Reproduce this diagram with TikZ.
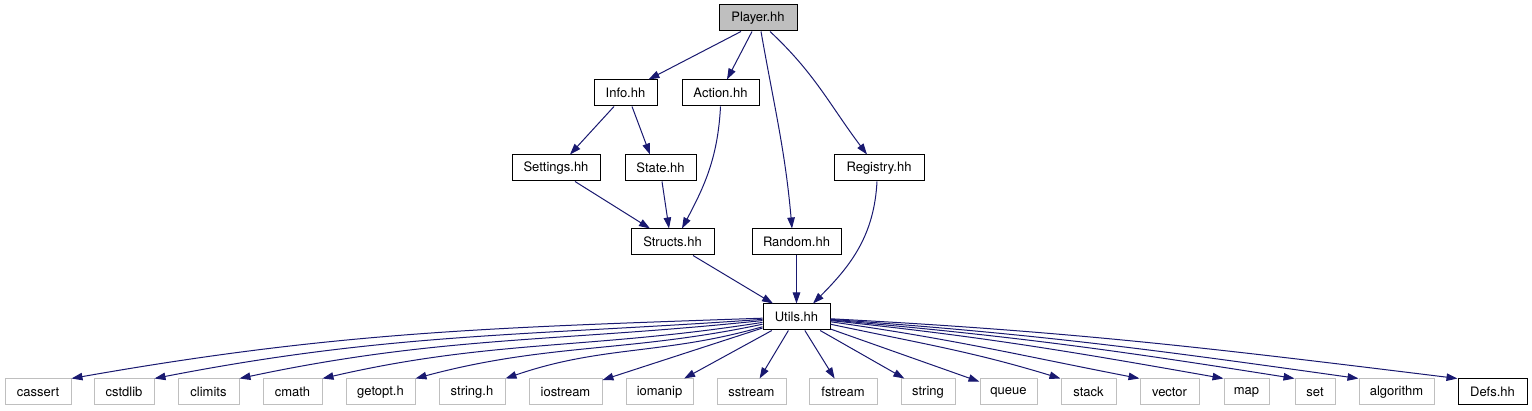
\documentclass[tikz,border=0pt]{standalone}
\usepackage{fontspec}
\setmainfont{TeX Gyre Heros}
\usetikzlibrary{arrows.meta}
\definecolor{edgeblue}{HTML}{191970}
\definecolor{lightgrey}{HTML}{BFBFBF}
\definecolor{playerfill}{HTML}{BFBFBF}
\begin{document}
\begin{tikzpicture}[x=1pt,y=1pt,
  every node/.style={font=\fontsize{13}{15}\selectfont, inner sep=0pt, minimum height=26pt, anchor=center},
  box/.style={draw=black, line width=1pt, fill=white},
  extbox/.style={draw=lightgrey, line width=1pt, fill=white},
  edge/.style={draw=edgeblue, line width=1pt, -{Triangle[length=11pt,width=7.5pt]}},
]
\useasboundingbox (0,0) rectangle (1532,-411);
\fill[white] (0,0) rectangle (1532,-411);

\node[box, fill=playerfill, minimum width=78pt] (player) at (758,-18) {Player.hh};
\node[box, minimum width=63pt] (info) at (625.5,-93) {Info.hh};
\node[box, minimum width=77pt] (action) at (720.5,-93) {Action.hh};
\node[box, minimum width=88pt] (settings) at (556,-168) {Settings.hh};
\node[box, minimum width=71pt] (state) at (660.5,-168) {State.hh};
\node[box, minimum width=90pt] (registry) at (879,-168) {Registry.hh};
\node[box, minimum width=83pt] (structs) at (672.5,-242) {Structs.hh};
\node[box, minimum width=89pt] (random) at (796.5,-242) {Random.hh};
\node[box, minimum width=67pt] (utils) at (796.5,-317) {Utils.hh};

\node[extbox, minimum width=66pt] (cassert) at (38,-392) {cassert};
\node[extbox, minimum width=60pt] (cstdlib) at (124,-392) {cstdlib};
\node[extbox, minimum width=61pt] (climits) at (208.5,-392) {climits};
\node[extbox, minimum width=59pt] (cmath) at (292.5,-392) {cmath};
\node[extbox, minimum width=69pt] (getopt) at (380.5,-392) {getopt.h};
\node[extbox, minimum width=66pt] (stringh) at (472,-392) {string.h};
\node[extbox, minimum width=73pt] (iostream) at (565.5,-392) {iostream};
\node[extbox, minimum width=67pt] (iomanip) at (659.5,-392) {iomanip};
\node[extbox, minimum width=69pt] (sstream) at (751.5,-392) {sstream};
\node[extbox, minimum width=68pt] (fstream) at (843,-392) {fstream};
\node[extbox, minimum width=54pt] (string) at (928,-392) {string};
\node[extbox, minimum width=57pt] (queue) at (1008.5,-392) {queue};
\node[extbox, minimum width=55pt] (stack) at (1088.5,-392) {stack};
\node[extbox, minimum width=59pt] (vector) at (1169.5,-392) {vector};
\node[extbox, minimum width=45pt] (map) at (1246.5,-392) {map};
\node[extbox, minimum width=40pt] (set) at (1315,-392) {set};
\node[extbox, minimum width=75pt] (algorithm) at (1396.5,-392) {algorithm};
\node[box, minimum width=69pt] (defs) at (1492.5,-392) {Defs.hh};

\draw[edge] ([xshift=-17]player.south) -- ([xshift=-9]info.north east);
\draw[edge] ([xshift=-6]player.south) -- ([xshift=6.5]action.north);
\draw[edge] ([xshift=3]player.south) to[out=-80,in=95] ([xshift=-4.5]random.north);
\draw[edge] ([xshift=12]player.south) to[out=-43,in=127] ([xshift=-12]registry.north);
\draw[edge] ([xshift=-11.5]info.south) -- ([xshift=14]settings.north);
\draw[edge] ([xshift=6.5]info.south) -- ([xshift=-10.5]state.north);
\draw[edge] (action.south) to[out=-93,in=62] ([xshift=9.5]structs.north);
\draw[edge] ([xshift=19]settings.south) -- ([xshift=-22.5]structs.north);
\draw[edge] ([xshift=1.5]state.south) -- ([xshift=-3.5]structs.north);
\draw[edge] ([xshift=-2]registry.south) to[out=-93,in=45] ([xshift=16.5]utils.north);
\draw[edge] ([xshift=20.5]structs.south) -- ([xshift=-23.5]utils.north);
\draw[edge] (random.south) -- (utils.north);

\draw[edge] (utils) to[out=182,in=10] (cassert.north east);
\draw[edge] (utils) to[out=184,in=11] (cstdlib.north east);
\draw[edge] (utils) to[out=186,in=12] (climits.north east);
\draw[edge] (utils) to[out=189,in=13] (cmath.north east);
\draw[edge] (utils) to[out=192,in=15] (getopt.north east);
\draw[edge] (utils) to[out=196,in=19] (stringh.north east);
\draw[edge] (utils) -- (iostream);
\draw[edge] (utils) -- (iomanip);
\draw[edge] (utils) -- (sstream);
\draw[edge] (utils) -- (fstream);
\draw[edge] (utils) -- (string);
\draw[edge] (utils) -- (queue);
\draw[edge] (utils) to[out=-12,in=163] (stack.north west);
\draw[edge] (utils) to[out=-8,in=169] (vector.north west);
\draw[edge] (utils) to[out=-6,in=170] (map.north west);
\draw[edge] (utils) to[out=-5,in=171] (set.north west);
\draw[edge] (utils) to[out=-4,in=172] (algorithm.north west);
\draw[edge] (utils) to[out=-3,in=173] (defs.north west);
\end{tikzpicture}
\end{document}
